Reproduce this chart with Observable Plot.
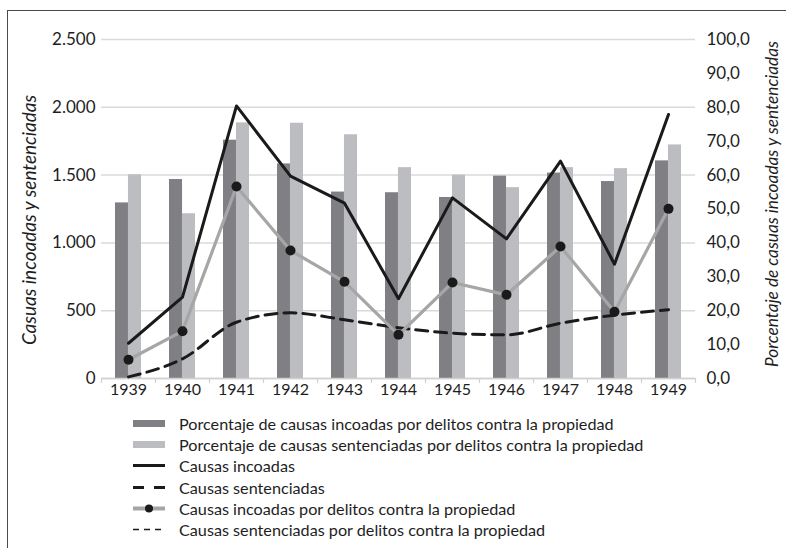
<!DOCTYPE html>
<html><head><meta charset="utf-8">
<script src="https://cdn.jsdelivr.net/npm/d3@7"></script>
<script src="https://cdn.jsdelivr.net/npm/@observablehq/plot@0.6"></script>
<style>
body{margin:0;background:#fff;font-family:Lato,sans-serif;}
#wrap{position:relative;width:786px;height:548px;overflow:hidden;}
#chart{position:absolute;left:0;top:0;}
#frame{position:absolute;left:7px;top:10px;width:820px;height:600px;border-top:1.5px solid #4a4a4a;border-left:1.5px solid #4a4a4a;pointer-events:none;}
#legend{position:absolute;left:133px;top:413px;font-size:16.2px;color:#1e1e1e;}
.row{height:21.2px;display:flex;align-items:center;white-space:nowrap;}
.row svg{margin-right:14px;flex:none}
</style></head><body>
<div id="wrap"><div id="chart"></div><div id="legend"></div><div id="frame"></div></div>
<script>
const years = ["1939","1940","1941","1942","1943","1944","1945","1946","1947","1948","1949"];
// percentages (right axis)
const pctIncoadasProp = [51.8, 58.7, 70.3, 63.3, 55.0, 54.8, 53.4, 59.7, 60.6, 58.1, 64.2];
const pctSentenciadasProp = [60.1, 48.6, 75.4, 75.3, 71.9, 62.2, 60.0, 56.3, 62.2, 61.9, 68.9];
// counts (left axis)
const causasIncoadas = [260, 600, 2010, 1492, 1293, 588, 1332, 1030, 1603, 843, 1947];
const causasSentenciadas = [12, 145, 415, 484, 433, 375, 334, 322, 408, 467, 507];
const causasIncoadasProp = [138, 349, 1416, 944, 713, 322, 708, 617, 973, 492, 1251];

const leftTicks = [0, 500, 1000, 1500, 2000, 2500];
const rightTicks = [0, 10, 20, 30, 40, 50, 60, 70, 80, 90, 100];
const leftMax = 2500, rightMax = 100;

const legendLabels = [
  "Porcentaje de causas incoadas por delitos contra la propiedad",
  "Porcentaje de causas sentenciadas por delitos contra la propiedad",
  "Causas incoadas",
  "Causas sentenciadas",
  "Causas incoadas por delitos contra la propiedad",
  "Causas sentenciadas por delitos contra la propiedad"
];

const C = {dark:"#808084", light:"#bcbdc0", black:"#1a1a1a", gray:"#a6a6a6", grid:"#dadada", text:"#1e1e1e"};

const loc = d3.formatLocale({decimal:",", thousands:".", grouping:[3], currency:["",""]});
const fmtInt = loc.format(",d");
const fmtDec = loc.format(".1f");
const K = leftMax / rightMax;

const data = years.map((year, i) => ({
  year,
  pi: pctIncoadasProp[i],
  ps: pctSentenciadasProp[i],
  inc: causasIncoadas[i],
  sent: causasSentenciadas[i],
  prop: causasIncoadasProp[i]
}));

const chart = Plot.plot({
  width: 786, height: 400,
  marginLeft: 101, marginRight: 91, marginTop: 39, marginBottom: 22,
  style: {fontFamily: "Lato, sans-serif", overflow: "visible", background: "transparent", color: C.text},
  x: {type: "band", domain: years, paddingInner: 0.52, paddingOuter: 0.26, axis: null},
  y: {domain: [0, leftMax], axis: null},
  marks: [
    Plot.gridY(leftTicks, {stroke: C.grid, strokeOpacity: 1, strokeWidth: 1.5}),
    Plot.barY(data, {x: "year", y: d => d.pi * K, fill: C.dark, insetRight: 12.96}),
    Plot.barY(data, {x: "year", y: d => d.ps * K, fill: C.light, insetLeft: 12.96}),
    Plot.ruleY([0], {stroke: "#d0d0d0", strokeWidth: 1.5}),
    Plot.ruleX(years, {x: d => d, y1: 0, y2: 0, dx: -27, insetBottom: -5, stroke: "#d0d0d0", strokeWidth: 1.2}),
    Plot.ruleX(years.slice(-1), {x: d => d, y1: 0, y2: 0, dx: 27, insetBottom: -5, stroke: "#d0d0d0", strokeWidth: 1.2}),
    Plot.line(data, {x: "year", y: "sent", stroke: C.black, strokeWidth: 3, strokeDasharray: "12,7", curve: "monotone-x"}),
    Plot.line(data, {x: "year", y: "prop", stroke: C.gray, strokeWidth: 3.2}),
    Plot.dot(data, {x: "year", y: "prop", r: 5, fill: C.black, stroke: "none"}),
    Plot.line(data, {x: "year", y: "inc", stroke: C.black, strokeWidth: 3}),
    Plot.axisY(leftTicks, {anchor: "left", tickSize: 0, tickPadding: 6, tickFormat: fmtInt, fontSize: 17, label: null}),
    Plot.axisY(rightTicks.map(d => d * K), {anchor: "right", tickSize: 0, tickPadding: 11, tickFormat: d => fmtDec(d / K), fontSize: 17, label: null}),
    Plot.axisX(years, {tickSize: 0, tickPadding: 5, fontSize: 16, label: null}),
    Plot.text(["Casuas incoadas y sentenciadas"], {frameAnchor: "left", textAnchor: "middle", lineAnchor: "middle", dx: -72, dy: 11, rotate: -90, fontStyle: "italic", fontSize: 19, fill: C.text}),
    Plot.text(["Porcentaje de casuas incoadas y sentenciadas"], {frameAnchor: "right", textAnchor: "middle", lineAnchor: "middle", dx: 77, dy: -5, rotate: -90, fontStyle: "italic", fontSize: 17.3, fill: C.text})
  ]
});
document.getElementById("chart").appendChild(chart);

const swatches = [
  `<rect x="0" y="3" width="32" height="7" fill="${C.dark}"/>`,
  `<rect x="0" y="3" width="32" height="7" fill="${C.light}"/>`,
  `<line x1="0" x2="32" y1="6.5" y2="6.5" stroke="${C.black}" stroke-width="3"/>`,
  `<line x1="0" x2="32" y1="6.5" y2="6.5" stroke="${C.black}" stroke-width="3" stroke-dasharray="11,10"/>`,
  `<line x1="0" x2="32" y1="6.5" y2="6.5" stroke="${C.gray}" stroke-width="4"/><circle cx="16" cy="6.5" r="4" fill="${C.black}"/>`,
  `<line x1="0" x2="32" y1="6.5" y2="6.5" stroke="${C.black}" stroke-width="1.5" stroke-dasharray="6,5"/>`
];
const legend = document.getElementById("legend");
legendLabels.forEach((lab, i) => {
  const row = document.createElement("div");
  row.className = "row";
  row.innerHTML = `<svg width="32" height="13">${swatches[i]}</svg><span>${lab}</span>`;
  legend.appendChild(row);
});
</script>
</body></html>
